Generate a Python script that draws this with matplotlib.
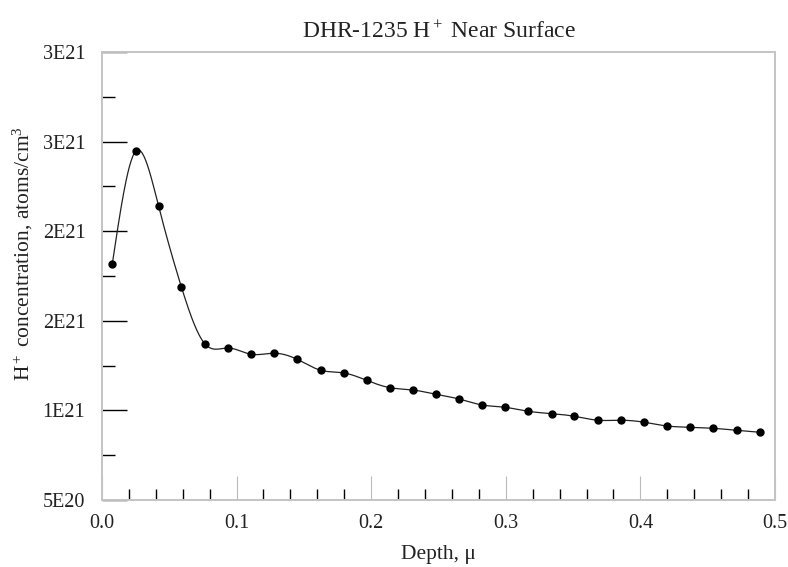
import matplotlib
matplotlib.use("Agg")
import matplotlib.pyplot as plt
import numpy as np

plt.rcParams['font.family'] = ['Liberation Serif', 'DejaVu Serif']
plt.rcParams['mathtext.fontset'] = 'custom'
plt.rcParams['mathtext.rm'] = 'Liberation Serif'
plt.rcParams['mathtext.it'] = 'Liberation Serif:italic'

# depth in microns, concentration in units of 1E21 atoms/cm^3
depth = [0.0077, 0.025, 0.042, 0.059, 0.0765, 0.0936, 0.111, 0.128, 0.145,
         0.1625, 0.1795, 0.1966, 0.2137, 0.2308, 0.248, 0.265, 0.2826, 0.2996,
         0.3167, 0.334, 0.351, 0.3685, 0.3853, 0.4028, 0.4197, 0.437, 0.454,
         0.4715, 0.4886]
conc = [1.819, 2.446, 2.142, 1.689, 1.371, 1.348, 1.313, 1.319, 1.285,
        1.224, 1.209, 1.168, 1.127, 1.114, 1.090, 1.064, 1.030, 1.017,
        0.995, 0.982, 0.967, 0.945, 0.945, 0.934, 0.913, 0.906, 0.900,
        0.889, 0.878]

ytick_vals = [0.5, 1.0, 1.5, 2.0, 2.5, 3.0]
ytick_labels = ['5E20', '1E21', '2E21', '2E21', '3E21', '3E21']
xtick_vals = [0.0, 0.1, 0.2, 0.3, 0.4, 0.5]


def natural_spline(x, y, n=800):
    # plain natural cubic spline so the line curves through the points
    x = np.asarray(x, float)
    y = np.asarray(y, float)
    m = len(x)
    h = np.diff(x)
    A = np.zeros((m, m))
    b = np.zeros(m)
    A[0, 0] = A[-1, -1] = 1
    for i in range(1, m - 1):
        A[i, i - 1] = h[i - 1]
        A[i, i] = 2 * (h[i - 1] + h[i])
        A[i, i + 1] = h[i]
        b[i] = 3 * ((y[i + 1] - y[i]) / h[i] - (y[i] - y[i - 1]) / h[i - 1])
    c = np.linalg.solve(A, b)
    xs = np.linspace(x[0], x[-1], n)
    idx = np.clip(np.searchsorted(x, xs) - 1, 0, m - 2)
    dx = xs - x[idx]
    bb = (y[idx + 1] - y[idx]) / h[idx] - h[idx] * (2 * c[idx] + c[idx + 1]) / 3
    dd = (c[idx + 1] - c[idx]) / (3 * h[idx])
    ys = y[idx] + bb * dx + c[idx] * dx ** 2 + dd * dx ** 3
    return xs, ys


fig = plt.figure(figsize=(7.88, 5.67), dpi=100)
ax = fig.add_axes([0.1294, 0.1182, 0.8541, 0.7901])

xs, ys = natural_spline(depth, conc)
ax.plot(xs, ys, color='#222222', lw=0.9)
ax.plot(depth, conc, 'o', color='black', ms=5)

ax.set_xlim(0, 0.5)
ax.set_ylim(0.5, 3.0)

ax.set_yticks(ytick_vals)
ax.set_yticklabels(ytick_labels)
ax.set_yticks(np.arange(0.75, 3.0, 0.5), minor=True)
ax.set_xticks(xtick_vals)
ax.set_xticklabels(['%.1f' % v for v in xtick_vals])
ax.set_xticks([v for v in np.arange(0.02, 0.5, 0.02) if abs(v * 10 - round(v * 10)) > 1e-6], minor=True)

ax.tick_params(axis='y', which='major', direction='in', length=18, width=1,
               color='black', labelsize=14.5, labelcolor='#222222', pad=12, right=False)
ax.tick_params(axis='y', which='minor', direction='in', length=9, width=1,
               color='black', right=False)
ax.tick_params(axis='x', which='major', direction='in', length=17, width=0.8,
               color='#bbbbbb', labelsize=14.5, labelcolor='#222222', pad=10, top=False)
ax.tick_params(axis='x', which='minor', direction='in', length=8, width=1,
               color='black', top=False)

for s in ax.spines.values():
    s.set_color('#c4c4c4')
    s.set_linewidth(1.4)

ax.set_title('DHR-1235 H$^+$ Near Surface', fontsize=17, pad=10, color='#222222')
ax.set_xlabel('Depth, \u03bc', fontsize=15.5, labelpad=9, color='#222222')
ax.set_ylabel('H$^+$ concentration, atoms/cm$^3$', fontsize=15.5, color='#222222')
ax.yaxis.set_label_coords(-0.099, 0.55)

fig.savefig('out.png', dpi=100)
